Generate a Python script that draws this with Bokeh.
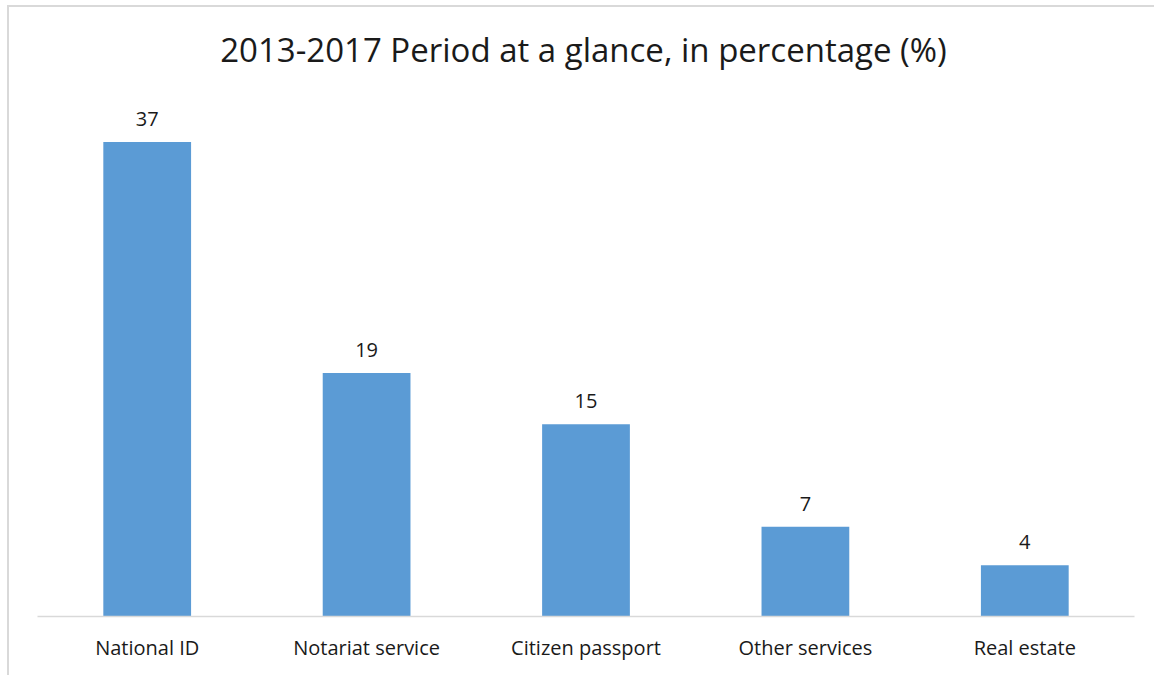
from bokeh.plotting import figure
from bokeh.models import ColumnDataSource, Range1d, LabelSet, Label, FactorRange
from bokeh.core.properties import value
from bokeh.embed import file_html
from bokeh.resources import INLINE

categories = ["National ID", "Notariat service", "Citizen passport", "Other services", "Real estate"]
values = [37, 19, 15, 7, 4]
labels = [str(v) for v in values]
title_text = "2013-2017 Period at a glance, in percentage (%)"
y_top = 47.5  # frame extends up to the title area

source = ColumnDataSource(data=dict(cat=categories, val=values, lab=labels))

FONT = "Open Sans"

p = figure(
    x_range=FactorRange(*categories, range_padding=0.0),
    y_range=Range1d(0, y_top),
    width=1147, height=670,
    output_backend="svg", toolbar_location=None,
    min_border_left=28, min_border_right=22, min_border_top=0, min_border_bottom=61,
)
p.margin = (5, 0, 0, 7)
p.styles = {"border-top": "2px solid #d9d9d9", "border-left": "2px solid #d9d9d9", "box-sizing": "border-box"}

p.vbar(x="cat", top="val", width=0.40, source=source, fill_color="#5b9bd5", line_color=None)

p.add_layout(LabelSet(x="cat", y="val", text="lab", source=source, text_align="center",
                      text_baseline="bottom", y_offset=16, text_font=value(FONT),
                      text_font_size="20px", text_color="#1a1a1a"))

# chart title, centred over the plot frame
p.add_layout(Label(x=546, x_units="screen", y=y_top, y_offset=-42, text=title_text,
                   text_align="center", text_baseline="middle", text_font=FONT,
                   text_font_size="33px", text_color="#1a1a1a"))

p.yaxis.visible = False
p.xgrid.grid_line_color = None
p.ygrid.grid_line_color = None
p.outline_line_color = None

p.xaxis.axis_line_color = "#d9d9d9"
p.xaxis.axis_line_width = 1.5
p.xaxis.major_tick_line_color = None
p.xaxis.minor_tick_line_color = None
p.xaxis.major_label_text_font = FONT
p.xaxis.major_label_text_font_size = "20px"
p.xaxis.major_label_text_color = "#1a1a1a"
p.xaxis.major_label_standoff = 11

open("out.html", "w").write(file_html(p, INLINE))
